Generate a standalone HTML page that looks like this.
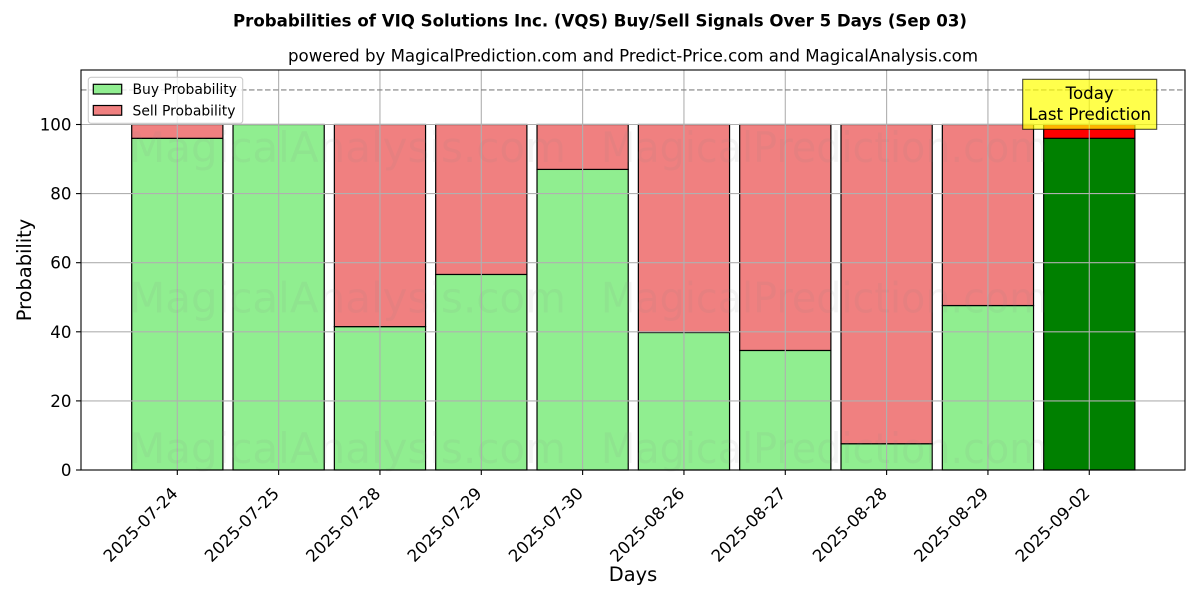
<!DOCTYPE html>
<html>
<head>
<meta charset="utf-8">
<style>
  html, body { margin: 0; padding: 0; background: #ffffff; }
  svg { display: block; }
  text { font-family: "DejaVu Sans", "Liberation Sans", sans-serif; fill: #000; }
  text.wm { fill: #808080; fill-opacity: 0.09; }
</style>
</head>
<body>
<svg width="1200" height="600" viewBox="0 0 1200 600" xmlns="http://www.w3.org/2000/svg">
  <rect x="0" y="0" width="1200" height="600" fill="#ffffff"/>

  <!-- Titles -->
  <text x="600" y="26.5" text-anchor="middle" font-size="16.67" font-weight="bold" textLength="734" lengthAdjust="spacingAndGlyphs">Probabilities of VIQ Solutions Inc. (VQS) Buy/Sell Signals Over 5 Days (Sep 03)</text>
  <text x="633" y="61.5" text-anchor="middle" font-size="16.67" textLength="690" lengthAdjust="spacingAndGlyphs">powered by MagicalPrediction.com and Predict-Price.com and MagicalAnalysis.com</text>

  <!-- Bars -->
  <g stroke="#000" stroke-width="1.2">
    <rect x="131.7" y="138.32" width="91.2" height="331.68" fill="#90ee90"/>
    <rect x="131.7" y="124.5" width="91.2" height="13.82" fill="#f08080"/>
    <rect x="233.03" y="124.5" width="91.2" height="345.5" fill="#90ee90"/>
    <rect x="334.36" y="326.62" width="91.2" height="143.38" fill="#90ee90"/>
    <rect x="334.36" y="124.5" width="91.2" height="202.12" fill="#f08080"/>
    <rect x="435.69" y="274.45" width="91.2" height="195.55" fill="#90ee90"/>
    <rect x="435.69" y="124.5" width="91.2" height="149.95" fill="#f08080"/>
    <rect x="537.02" y="169.41" width="91.2" height="300.59" fill="#90ee90"/>
    <rect x="537.02" y="124.5" width="91.2" height="44.91" fill="#f08080"/>
    <rect x="638.35" y="332.49" width="91.2" height="137.51" fill="#90ee90"/>
    <rect x="638.35" y="124.5" width="91.2" height="207.99" fill="#f08080"/>
    <rect x="739.68" y="350.46" width="91.2" height="119.54" fill="#90ee90"/>
    <rect x="739.68" y="124.5" width="91.2" height="225.96" fill="#f08080"/>
    <rect x="841.01" y="443.74" width="91.2" height="26.26" fill="#90ee90"/>
    <rect x="841.01" y="124.5" width="91.2" height="319.24" fill="#f08080"/>
    <rect x="942.34" y="305.54" width="91.2" height="164.46" fill="#90ee90"/>
    <rect x="942.34" y="124.5" width="91.2" height="181.04" fill="#f08080"/>
    <rect x="1043.67" y="138.32" width="91.2" height="331.68" fill="#008000"/>
    <rect x="1043.67" y="124.5" width="91.2" height="13.82" fill="#ff0000"/>
  </g>

  <!-- Grid (drawn over bars) -->
  <g stroke="#b0b0b0" stroke-width="1.1">
    <line x1="177.3" y1="70" x2="177.3" y2="470"/>
    <line x1="278.63" y1="70" x2="278.63" y2="470"/>
    <line x1="379.96" y1="70" x2="379.96" y2="470"/>
    <line x1="481.29" y1="70" x2="481.29" y2="470"/>
    <line x1="582.62" y1="70" x2="582.62" y2="470"/>
    <line x1="683.95" y1="70" x2="683.95" y2="470"/>
    <line x1="785.28" y1="70" x2="785.28" y2="470"/>
    <line x1="886.61" y1="70" x2="886.61" y2="470"/>
    <line x1="987.94" y1="70" x2="987.94" y2="470"/>
    <line x1="1089.27" y1="70" x2="1089.27" y2="470"/>
    <line x1="81" y1="400.9" x2="1185" y2="400.9"/>
    <line x1="81" y1="331.8" x2="1185" y2="331.8"/>
    <line x1="81" y1="262.7" x2="1185" y2="262.7"/>
    <line x1="81" y1="193.6" x2="1185" y2="193.6"/>
    <line x1="81" y1="124.5" x2="1185" y2="124.5"/>
  </g>

  <!-- Dashed line at 110 -->
  <line x1="81" y1="89.95" x2="1185" y2="89.95" stroke="#808080" stroke-width="1.2" stroke-dasharray="5.5 2.5"/>

  <!-- Watermarks -->
  <g font-size="42">
    <text class="wm" x="129" y="162" textLength="437" lengthAdjust="spacingAndGlyphs">MagicalAnalysis.com</text>
    <text class="wm" x="601" y="162" textLength="447" lengthAdjust="spacingAndGlyphs">MagicalPrediction.com</text>
    <text class="wm" x="129" y="312.5" textLength="437" lengthAdjust="spacingAndGlyphs">MagicalAnalysis.com</text>
    <text class="wm" x="601" y="312.5" textLength="447" lengthAdjust="spacingAndGlyphs">MagicalPrediction.com</text>
    <text class="wm" x="129" y="463" textLength="437" lengthAdjust="spacingAndGlyphs">MagicalAnalysis.com</text>
    <text class="wm" x="601" y="463" textLength="447" lengthAdjust="spacingAndGlyphs">MagicalPrediction.com</text>
  </g>

  <!-- Axes spines -->
  <rect x="81" y="70" width="1104" height="400" fill="none" stroke="#000" stroke-width="1.1"/>

  <!-- Ticks -->
  <g stroke="#000" stroke-width="1.1">
    <line x1="177.3" y1="470" x2="177.3" y2="475"/>
    <line x1="278.63" y1="470" x2="278.63" y2="475"/>
    <line x1="379.96" y1="470" x2="379.96" y2="475"/>
    <line x1="481.29" y1="470" x2="481.29" y2="475"/>
    <line x1="582.62" y1="470" x2="582.62" y2="475"/>
    <line x1="683.95" y1="470" x2="683.95" y2="475"/>
    <line x1="785.28" y1="470" x2="785.28" y2="475"/>
    <line x1="886.61" y1="470" x2="886.61" y2="475"/>
    <line x1="987.94" y1="470" x2="987.94" y2="475"/>
    <line x1="1089.27" y1="470" x2="1089.27" y2="475"/>
    <line x1="76" y1="470" x2="81" y2="470"/>
    <line x1="76" y1="400.9" x2="81" y2="400.9"/>
    <line x1="76" y1="331.8" x2="81" y2="331.8"/>
    <line x1="76" y1="262.7" x2="81" y2="262.7"/>
    <line x1="76" y1="193.6" x2="81" y2="193.6"/>
    <line x1="76" y1="124.5" x2="81" y2="124.5"/>
  </g>

  <!-- Y tick labels -->
  <g font-size="16.67" text-anchor="end">
    <text x="71.5" y="476">0</text>
    <text x="71.5" y="406.9">20</text>
    <text x="71.5" y="337.8">40</text>
    <text x="71.5" y="268.7">60</text>
    <text x="71.5" y="199.6">80</text>
    <text x="71.5" y="130.5">100</text>
  </g>

  <!-- X tick labels -->
  <g font-size="16.67" text-anchor="end">
    <text transform="translate(178.8,494.5) rotate(-45)">2025-07-24</text>
    <text transform="translate(280.1,494.5) rotate(-45)">2025-07-25</text>
    <text transform="translate(381.5,494.5) rotate(-45)">2025-07-28</text>
    <text transform="translate(482.8,494.5) rotate(-45)">2025-07-29</text>
    <text transform="translate(584.1,494.5) rotate(-45)">2025-07-30</text>
    <text transform="translate(685.5,494.5) rotate(-45)">2025-08-26</text>
    <text transform="translate(786.8,494.5) rotate(-45)">2025-08-27</text>
    <text transform="translate(888.1,494.5) rotate(-45)">2025-08-28</text>
    <text transform="translate(989.4,494.5) rotate(-45)">2025-08-29</text>
    <text transform="translate(1090.8,494.5) rotate(-45)">2025-09-02</text>
  </g>

  <!-- Axis labels -->
  <text x="633" y="581" text-anchor="middle" font-size="19.4">Days</text>
  <text transform="translate(31,270) rotate(-90)" text-anchor="middle" font-size="19.4">Probability</text>

  <!-- Legend -->
  <rect x="88.3" y="77.3" width="154.4" height="46" rx="2.8" ry="2.8" fill="#ffffff" fill-opacity="0.8" stroke="#cccccc" stroke-width="1.1"/>
  <rect x="93.3" y="84.3" width="28.4" height="9.7" fill="#90ee90" stroke="#000" stroke-width="1.2"/>
  <rect x="93.3" y="105.5" width="28.4" height="9.7" fill="#f08080" stroke="#000" stroke-width="1.2"/>
  <text x="132.5" y="94.2" font-size="13.9">Buy Probability</text>
  <text x="132.5" y="115.4" font-size="13.9">Sell Probability</text>

  <!-- Today box -->
  <rect x="1022.7" y="79.3" width="134" height="50" fill="#ffff00" fill-opacity="0.7" stroke="#000" stroke-opacity="0.7" stroke-width="1.1"/>
  <text x="1089.7" y="99" text-anchor="middle" font-size="16.67">Today</text>
  <text x="1089.7" y="119.8" text-anchor="middle" font-size="16.67">Last Prediction</text>
</svg>
</body>
</html>
